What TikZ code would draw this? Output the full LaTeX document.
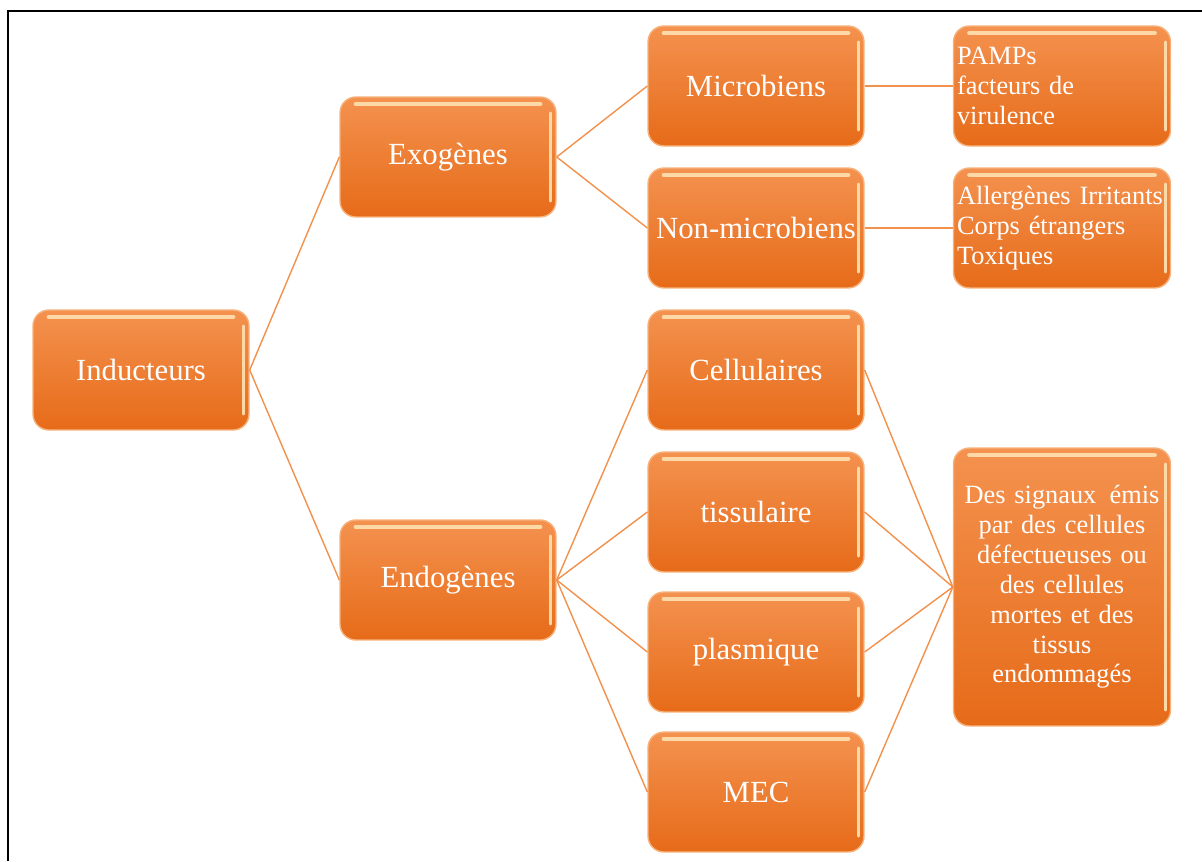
\documentclass[tikz,border=0pt]{standalone}
\usepackage{fontspec}
\setmainfont{Liberation Serif}
\usepackage{xcolor}
\usetikzlibrary{positioning}
\definecolor{orangetop}{HTML}{F4924F}
\definecolor{orangebot}{HTML}{E66B19}
\definecolor{orangeedge}{HTML}{F7B27C}
\definecolor{orangeline}{HTML}{F1914C}
\definecolor{orangehl}{HTML}{FDD9A8}

\begin{document}
\begin{tikzpicture}[x=0.02cm,y=-0.02cm,
  box/.style={rounded corners=9pt,top color=orangetop,bottom color=orangebot,draw=orangeedge,line width=0.8pt,
    minimum width=4.32cm,minimum height=2.4cm,inner sep=2pt,text=white,font=\fontsize{17.5}{21}\selectfont,
    path picture={\draw[orangehl,line width=2.5pt,line cap=round] ([xshift=9pt,yshift=-4pt]path picture bounding box.north west) -- ([xshift=-9pt,yshift=-4pt]path picture bounding box.north east);
      \draw[orangehl,line width=1.5pt,line cap=round] ([xshift=-3pt,yshift=-9pt]path picture bounding box.north east) -- ([xshift=-3pt,yshift=9pt]path picture bounding box.south east);}},
  info/.style={box,font=\fontsize{15}{17}\selectfont,text width=4.2cm},
  lnk/.style={orangeline,line width=0.8pt}]
  \useasboundingbox (0,0) rectangle (1202,861);
  \draw[line width=1.2pt] (8,861) -- (8,11) -- (1202,11);

  \node[box] (ind) at (141,370) {Inducteurs};

  \node[box] (exo) at (448,157) {Exogènes};
  \node[box] (endo) at (448,580) {Endogènes};

  \node[box] (mic) at (756,86) {Microbiens};
  \node[box] (nmic) at (756,228) {Non-microbiens};
  \node[box] (cel) at (756,370) {Cellulaires};
  \node[box] (tis) at (756,512) {tissulaire};
  \node[box] (pla) at (756,652) {plasmique};
  \node[box] (mec) at (756,792) {MEC};

  \node[info,align=left] (pamp) at (1062,86) {PAMPs\\facteurs de\\virulence};
  \node[info,align=left] (allg) at (1062,228) {Allergènes Irritants\\Corps étrangers\\Toxiques};
  \node[info,align=center,minimum height=5.56cm] (sig) at (1062,587) {Des signaux\, émis\\par des cellules\\défectueuses ou\\des cellules\\mortes et des\\tissus\\endommagés};

  \draw[lnk] (ind.east) -- (exo.west);
  \draw[lnk] (ind.east) -- (endo.west);
  \draw[lnk] (exo.east) -- (mic.west);
  \draw[lnk] (exo.east) -- (nmic.west);
  \foreach \n in {cel,tis,pla,mec}
    \draw[lnk] (endo.east) -- (\n.west);
  \draw[lnk] (mic.east) -- (pamp.west);
  \draw[lnk] (nmic.east) -- (allg.west);
  \foreach \n in {cel,tis,pla,mec}
    \draw[lnk] (\n.east) -- (sig.west);
\end{tikzpicture}
\end{document}
